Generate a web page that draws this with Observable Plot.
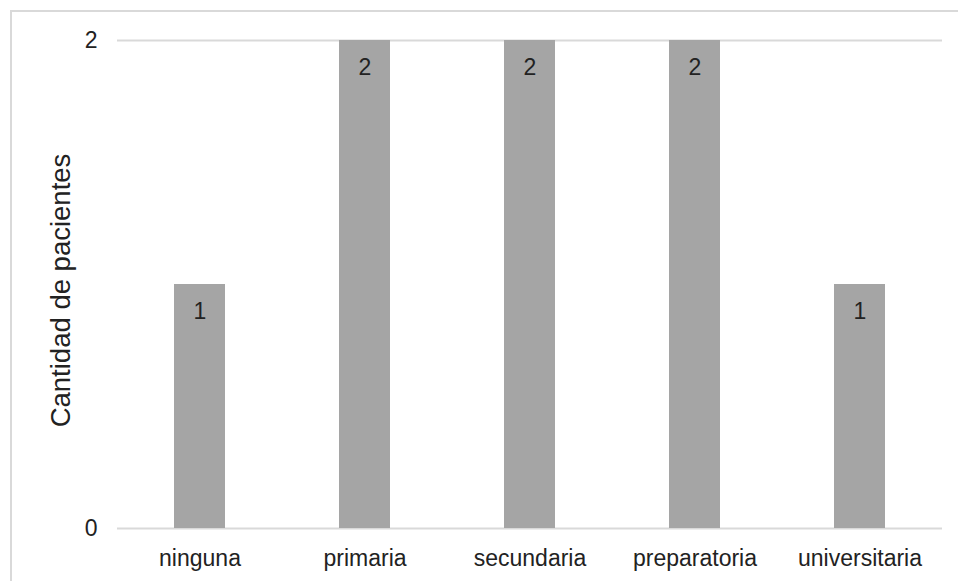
<!DOCTYPE html>
<html><head><meta charset="utf-8">
<script src="https://cdn.jsdelivr.net/npm/d3@7"></script>
<script src="https://cdn.jsdelivr.net/npm/@observablehq/plot@0.6"></script>
<style>
html,body{margin:0;padding:0;background:#fff;}
#wrap{position:relative;width:958px;height:581px;overflow:hidden;}
#border{position:absolute;left:10px;top:10px;width:960px;height:600px;border-top:2px solid #d9d9d9;border-left:2px solid #d9d9d9;box-sizing:border-box;}
#chart{position:absolute;left:0;top:0;}
</style></head>
<body>
<div id="wrap"><div id="border"></div><div id="chart"></div></div>
<script>
const categories = ["ninguna","primaria","secundaria","preparatoria","universitaria"];
const values = [1,2,2,2,1];
const yTicks = [0,2];
const yLabel = "Cantidad de pacientes";

const data = categories.map((c,i)=>({cat:c, value:values[i]}));

const chart = Plot.plot({
  width: 958, height: 581,
  marginLeft: 117, marginRight: 16, marginTop: 40, marginBottom: 53,
  style: {fontFamily: "'Liberation Sans', Arial, sans-serif", fontSize: "23px", color: "#222", background: "transparent"},
  x: {domain: categories, paddingInner: 0.691, paddingOuter: 0.3455, label: null},
  y: {domain: [0,2], ticks: yTicks, label: null},
  marks: [
    Plot.ruleY(yTicks, {stroke: "#d9d9d9", strokeWidth: 2, strokeOpacity: 1}),
    Plot.barY(data, {x: "cat", y: "value", fill: "#a5a5a5"}),
    Plot.text(data, {x: "cat", y: "value", text: d => String(d.value), dy: 27, fill: "#222", fontSize: 23}),
    Plot.axisX({tickSize: 0, tickPadding: 21, fontSize: 23, fill: "#222", label: null}),
    Plot.axisY({ticks: yTicks, tickSize: 0, tickPadding: 20, fontSize: 23, fill: "#222", label: null, tickFormat: d => String(d)}),
    Plot.text([yLabel], {frameAnchor: "left", textAnchor: "middle", dx: -56, dy: 6, rotate: -90, text: d => d, fontSize: 27.5, fill: "#222"})
  ]
});
document.getElementById("chart").appendChild(chart);
</script>
</body></html>
